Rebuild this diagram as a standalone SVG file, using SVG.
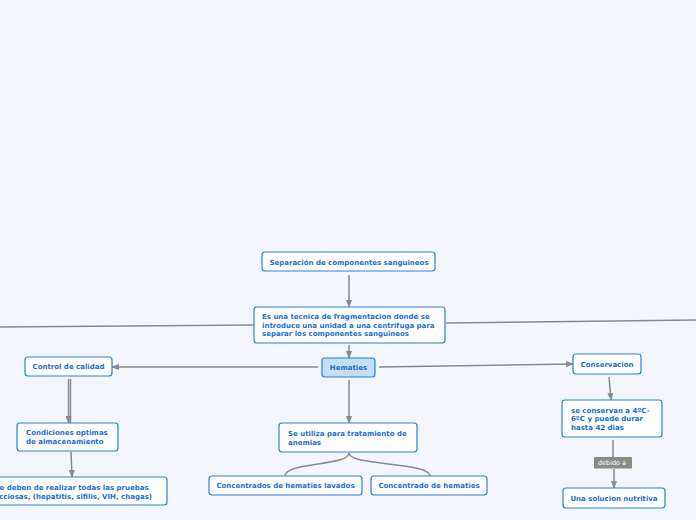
<svg xmlns="http://www.w3.org/2000/svg" width="696" height="520" viewBox="0 0 696 520">
<defs>
<marker id="ah" markerWidth="8" markerHeight="6" refX="7" refY="3" orient="auto" markerUnits="userSpaceOnUse">
<path d="M0,0 L8,3 L0,6 Z" fill="#8a8a8a"/>
</marker>
<style>
.n{fill:#ffffff;stroke:#2a7fdc;stroke-width:1.2}
.h{fill:#c4dff5;stroke:#2a7fdc;stroke-width:1.2}
.s{fill:#9fb3cc;opacity:0.5}
.t{font-family:"DejaVu Sans",Verdana,sans-serif;font-size:7px;font-weight:bold;fill:#1a6fd0}
.c{text-anchor:middle}
.e{fill:none;stroke:#8a8a8a;stroke-width:1.5}
.lb{fill:#8a8a8a}
.lt{font-family:"DejaVu Sans",Verdana,sans-serif;font-size:6.5px;fill:#ffffff;text-anchor:middle}
</style>
</defs>
<rect width="696" height="520" fill="#f3f6fe"/>
<g id="connectors">
<line class="e" x1="349" y1="275" x2="349" y2="307" marker-end="url(#ah)"/>
<line class="e" x1="349" y1="345" x2="349" y2="358" marker-end="url(#ah)"/>
<line class="e" x1="254" y1="325" x2="0" y2="327"/>
<line class="e" x1="446" y1="323" x2="696" y2="320"/>
<line class="e" x1="318" y1="367" x2="112" y2="367" marker-end="url(#ah)"/>
<line class="e" x1="379" y1="367" x2="573" y2="364" marker-end="url(#ah)"/>
<line class="e" x1="349" y1="380" x2="349" y2="423" marker-end="url(#ah)"/>
<line class="e" x1="68.5" y1="379" x2="68.5" y2="423" marker-end="url(#ah)"/>
<line class="e" x1="70.5" y1="379" x2="70.5" y2="423"/>
<line class="e" x1="71" y1="452" x2="72" y2="477" marker-end="url(#ah)"/>
<line class="e" x1="609" y1="377" x2="611" y2="400" marker-end="url(#ah)"/>
<line class="e" x1="613" y1="440" x2="613" y2="457"/>
<line class="e" x1="614" y1="469" x2="614" y2="488" marker-end="url(#ah)"/>
<path class="e" d="M349,453 C349,466 285,462 285,476"/>
<path class="e" d="M349,453 C349,466 430,462 430,476"/>
<rect class="lb" x="594" y="457" width="38" height="11.5" rx="1"/>
<text class="lt" x="612" y="465">debido a</text>
</g>
<g id="n-separacion">
<rect class="n" x="262" y="252" width="173" height="19" rx="3"/>
<text class="t c" x="349" y="265">Separación de componentes sanguineos</text>
</g>
<g id="n-tecnica">
<rect class="n" x="254" y="307" width="191" height="36" rx="3"/>
<text class="t" x="262" y="319">Es una tecnica de fragmentacion donde se</text>
<text class="t" x="262" y="327.5">introduce una unidad a una centrifuga para</text>
<text class="t" x="262" y="336">separar los componentes sanguineos</text>
</g>
<g id="n-hematies">
<rect class="h" x="322" y="358" width="53" height="19" rx="3"/>
<text class="t c" x="348.5" y="369.5">Hematies</text>
</g>
<g id="n-control">
<rect class="n" x="25" y="357" width="87" height="19" rx="3"/>
<text class="t c" x="68.5" y="369">Control de calidad</text>
</g>
<g id="n-conservacion">
<rect class="n" x="573" y="354" width="68" height="20" rx="3"/>
<text class="t c" x="607" y="367">Conservacion</text>
</g>
<g id="n-condiciones">
<rect class="n" x="17" y="423" width="101" height="28" rx="3"/>
<text class="t" x="26" y="435">Condiciones optimas</text>
<text class="t" x="26" y="444">de almacenamiento</text>
</g>
<g id="n-pruebas">
<rect class="n" x="-20" y="477" width="187" height="28" rx="3"/>
<text class="t" x="-5.5" y="490">Se deben de realizar todas las pruebas</text>
<text class="t" x="-16" y="498.5">infecciosas, (hepatitis, sifilis, VIH, chagas)</text>
</g>
<g id="n-utiliza">
<rect class="n" x="279" y="423" width="138" height="29" rx="3"/>
<text class="t" x="288" y="436">Se utiliza para tratamiento de</text>
<text class="t" x="288" y="444.5">anemias</text>
</g>
<g id="n-lavados">
<rect class="n" x="209" y="476" width="153" height="19" rx="3"/>
<text class="t c" x="285.5" y="488">Concentrados de hematies lavados</text>
</g>
<g id="n-concentrado">
<rect class="n" x="371" y="476" width="116" height="19" rx="3"/>
<text class="t c" x="429" y="488">Concentrado de hematies</text>
</g>
<g id="n-seconservan">
<rect class="n" x="562" y="400" width="100" height="37" rx="3"/>
<text class="t" x="571" y="412.5">se conservan a 4ºC-</text>
<text class="t" x="571" y="421">6ºC y puede durar</text>
<text class="t" x="571" y="429.5">hasta 42 dias</text>
</g>
<g id="n-solucion">
<rect class="n" x="563" y="488" width="102" height="20" rx="3"/>
<text class="t c" x="614" y="500.5">Una solucion nutritiva</text>
</g>
</svg>
